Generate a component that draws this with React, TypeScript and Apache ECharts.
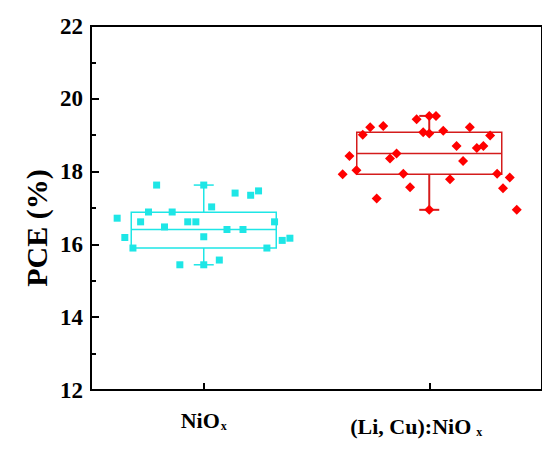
import React, { useEffect, useRef } from "react";
import * as echarts from "echarts";

const categories = ["NiO", "(Li, Cu):NiO"];
const yTicks = { min: 12, max: 22, interval: 2 };

// box statistics: [position, min, Q1, median, Q3, max]
const boxStats = [
  [0, 15.44, 15.9, 16.41, 16.88, 17.63],
  [1, 16.95, 17.93, 18.5, 19.08, 19.53],
];

// individual devices: [x position (category index + jitter), PCE]
const nioxPoints = [
  [-0.209, 17.63], [0.0, 17.63], [0.139, 17.41], [0.208, 17.35], [0.243, 17.47],
  [0.035, 17.03], [-0.245, 16.89], [-0.14, 16.89], [-0.384, 16.72], [-0.28, 16.62],
  [-0.071, 16.62], [-0.035, 16.62], [0.314, 16.62], [-0.174, 16.48], [0.103, 16.41],
  [0.174, 16.41], [-0.35, 16.19], [0.0, 16.21], [0.348, 16.11], [0.382, 16.17],
  [-0.314, 15.9], [0.28, 15.9], [-0.106, 15.44], [0.0, 15.44], [0.069, 15.57],
];

const licuPoints = [
  [0.944, 19.44], [1.0, 19.53], [1.03, 19.53], [0.738, 19.22], [0.796, 19.25],
  [1.18, 19.22], [0.973, 19.08], [1.0, 19.05], [1.062, 19.12], [0.705, 19.01],
  [1.27, 18.99], [1.121, 18.7], [1.211, 18.65], [1.24, 18.7], [0.646, 18.43],
  [0.855, 18.5], [0.826, 18.36], [1.15, 18.29], [0.616, 17.93], [0.677, 18.04],
  [0.885, 17.94], [1.301, 17.94], [1.357, 17.84], [1.092, 17.79], [1.327, 17.54],
  [0.915, 17.57], [0.767, 17.26], [1.0, 16.95], [1.388, 16.95],
];

const CYAN = "#1ee6e6";
const RED_BOX = "#d41c1c";
const RED = "#ff0000";
const FONT = "'Times New Roman', 'Liberation Serif', serif";

export default function App() {
  const ref = useRef<HTMLDivElement>(null);
  useEffect(() => {
    const chart = echarts.init(ref.current!, null, { renderer: "svg" });
    const boxColors = [CYAN, RED_BOX];
    const whiskerWidths = [1.5, 2];
    chart.setOption({
      animation: false,
      backgroundColor: "#ffffff",
      grid: {
        left: 91,
        top: 26,
        width: 452,
        height: 364,
        show: true,
        borderColor: "#000",
        borderWidth: 2,
        backgroundColor: "transparent",
      },
      xAxis: {
        type: "value",
        min: -0.5,
        max: 1.5,
        splitLine: { show: false },
        axisLine: { onZero: false, lineStyle: { color: "#000", width: 2 } },
        axisTick: {
          customValues: [0, 1],
          inside: true,
          length: 7,
          lineStyle: { color: "#000", width: 2 },
        },
        axisLabel: {
          customValues: [0, 1],
          margin: 18,
          color: "#000",
          fontFamily: FONT,
          fontWeight: "bold",
          fontSize: 22,
          formatter: (v: number) =>
            v === 0
              ? `{m|${categories[0]}}{s|x}`
              : `{m2|${categories[1]}}{s2|x}{p| }`,
          rich: {
            m: { fontFamily: FONT, fontWeight: "bold", fontSize: 22, color: "#000" },
            s: {
              fontFamily: FONT, fontWeight: "bold", fontSize: 12, color: "#000",
              padding: [12, 0, 0, 1],
            },
            m2: {
              fontFamily: FONT, fontWeight: "bold", fontSize: 22, color: "#000",
              padding: [6, 0, 0, 0],
            },
            s2: {
              fontFamily: FONT, fontWeight: "bold", fontSize: 12, color: "#000",
              padding: [18, 0, 0, 5],
            },
            p: { width: 26, fontSize: 12 },
          },
        },
      },
      yAxis: {
        type: "value",
        min: yTicks.min,
        max: yTicks.max,
        interval: yTicks.interval,
        splitLine: { show: false },
        axisLine: { show: true, onZero: false, lineStyle: { color: "#000", width: 2 } },
        axisTick: { show: true, inside: true, length: 8, lineStyle: { color: "#000", width: 2 } },
        minorTick: { show: true, splitNumber: 2, length: 5, lineStyle: { color: "#000", width: 2 } },
        axisLabel: {
          margin: 8,
          color: "#000",
          fontFamily: FONT,
          fontWeight: "bold",
          fontSize: 23,
        },
      },
      graphic: [
        {
          type: "text",
          x: 36,
          y: 228,
          rotation: Math.PI / 2,
          style: {
            text: "PCE (%)",
            fontFamily: FONT,
            fontWeight: "bold",
            fontSize: 30,
            fill: "#000",
            textAlign: "center",
            textVerticalAlign: "middle",
          },
        },
      ],
      series: [
        {
          type: "custom",
          data: boxStats,
          encode: { x: 0, y: [1, 2, 3, 4, 5] },
          z: 1,
          renderItem: (params: any, api: any) => {
            const x = api.value(0);
            const pMin = api.coord([x, api.value(1)]);
            const pQ1 = api.coord([x, api.value(2)]);
            const pMd = api.coord([x, api.value(3)]);
            const pQ3 = api.coord([x, api.value(4)]);
            const pMax = api.coord([x, api.value(5)]);
            const half = 72.5;
            const cap = 10;
            const color = boxColors[params.dataIndex];
            const lw = 1.5;
            const ww = whiskerWidths[params.dataIndex];
            const cx = pMd[0];
            return {
              type: "group",
              children: [
                {
                  type: "rect",
                  shape: { x: cx - half, y: pQ3[1], width: half * 2, height: pQ1[1] - pQ3[1] },
                  style: { fill: "none", stroke: color, lineWidth: lw },
                },
                {
                  type: "line",
                  shape: { x1: cx - half, y1: pMd[1], x2: cx + half, y2: pMd[1] },
                  style: { stroke: color, lineWidth: lw },
                },
                {
                  type: "line",
                  shape: { x1: cx, y1: pQ3[1], x2: cx, y2: pMax[1] },
                  style: { stroke: color, lineWidth: ww },
                },
                {
                  type: "line",
                  shape: { x1: cx, y1: pQ1[1], x2: cx, y2: pMin[1] },
                  style: { stroke: color, lineWidth: ww },
                },
                {
                  type: "line",
                  shape: { x1: cx - cap, y1: pMax[1], x2: cx + cap, y2: pMax[1] },
                  style: { stroke: color, lineWidth: ww },
                },
                {
                  type: "line",
                  shape: { x1: cx - cap, y1: pMin[1], x2: cx + cap, y2: pMin[1] },
                  style: { stroke: color, lineWidth: ww },
                },
              ],
            };
          },
        },
        {
          type: "scatter",
          data: nioxPoints,
          symbol: "rect",
          symbolSize: 7,
          itemStyle: { color: CYAN, opacity: 1 },
          z: 2,
        },
        {
          type: "scatter",
          data: licuPoints,
          symbol: "diamond",
          symbolSize: 10,
          itemStyle: { color: RED, opacity: 1 },
          z: 2,
        },
      ],
    });
    return () => chart.dispose();
  }, []);
  return (
    <div
      ref={ref}
      style={{ position: "absolute", left: 0, top: 0, width: 542, height: 450 }}
    />
  );
}
